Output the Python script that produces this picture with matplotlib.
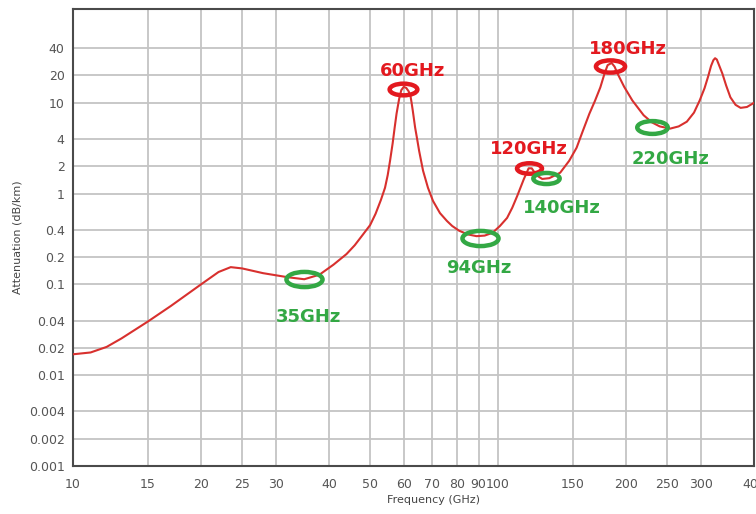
import matplotlib
matplotlib.use("Agg")
import matplotlib.pyplot as plt
from matplotlib.path import Path
from matplotlib.transforms import Affine2D
from matplotlib.ticker import FixedLocator, FixedFormatter, NullLocator

plt.rcParams['font.family'] = ['DejaVu Sans']

# ---- data ----
freq_ghz = [10, 11, 12, 13, 15, 17, 20, 22, 23.5, 25, 28, 32, 35, 38, 41, 44, 46, 48,
            50, 51.5, 53, 54.2, 55, 55.7, 56.5, 57.1, 57.7, 58.5, 59.2, 60, 60.8,
            61.6, 62.2, 62.6, 63.0, 63.8, 64.5, 65.2, 66.6, 68.4, 70.3, 73, 75.8,
            78, 81, 85, 89, 93, 97, 101, 105, 108, 111, 115, 118,
            120, 123, 127, 132, 140, 147, 153, 158, 164, 169, 174, 178, 181, 185, 188,
            191, 198, 207, 220, 230, 240, 254, 266, 278, 289, 298, 306, 312, 317, 321,
            324, 327, 331, 337, 344, 352, 362, 372, 385, 400]
atten_db_km = [0.017, 0.0178, 0.0205, 0.0254, 0.039, 0.058, 0.1, 0.137, 0.155, 0.15,
               0.133, 0.12, 0.114, 0.128, 0.165, 0.216, 0.27, 0.35,
               0.45, 0.6, 0.85, 1.16, 1.6, 2.3, 3.6, 5.3, 7.6, 11.0, 13.8, 15.0, 14.6,
               13.4, 12.0, 10.0, 8.2, 5.35, 4.0, 2.96, 1.79, 1.16, 0.83, 0.61, 0.5,
               0.44, 0.39, 0.355, 0.34, 0.345, 0.37, 0.44, 0.54, 0.7, 0.95, 1.45, 1.9,
               1.9, 1.6, 1.45, 1.48, 1.7, 2.3, 3.2, 4.8, 7.6, 10.5, 14.8,
               21, 26.0, 27.5, 25, 21, 15, 10.6, 7.3, 6.1, 5.5, 5.2, 5.5, 6.2, 7.8,
               10.6, 14.5, 19.5, 25.5, 29.5,
               31, 30, 26, 21, 15.5, 11.5, 9.5, 8.8, 9.0, 10.0]

mark_freq = [34.9, 59.7, 90.7, 118.3, 129.7, 183.4, 230]
mark_atten = [0.114, 14.1, 0.324, 1.93, 1.50, 25.3, 5.35]
mark_kind = ['green', 'red', 'green', 'red', 'green', 'red', 'green']

label_text = ['35GHz', '60GHz', '94GHz', '120GHz', '140GHz', '180GHz', '220GHz']
label_freq = [35.9, 62.8, 90.1, 118.3, 141.5, 202, 255]
label_atten = [0.0434, 22.3, 0.151, 3.13, 0.697, 39, 2.43]

x_ticks = [10, 15, 20, 25, 30, 40, 50, 60, 70, 80, 90, 100, 150, 200, 250, 300, 400]
x_tick_labels = ['10', '15', '20', '25', '30', '40', '50', '60', '70', '80', '90',
                 '100', '150', '200', '250', '300', '400']
y_ticks = [0.001, 0.002, 0.004, 0.01, 0.02, 0.04, 0.1, 0.2, 0.4, 1, 2, 4, 10, 20, 40]
y_tick_labels = ['0.001', '0.002', '0.004', '0.01', '0.02', '0.04', '0.1', '0.2',
                 '0.4', '1', '2', '4', '10', '20', '40']

# ---- style ----
RED_LINE = '#d8302e'
RED = '#e3191f'
GREEN = '#33a844'
colors = {'red': RED, 'green': GREEN}
mark_width_pt = [26, 20, 26, 18, 19, 21, 22]

fig = plt.figure(figsize=(7.56, 5.14), dpi=100)
ax = fig.add_axes([73 / 756, 1 - 466 / 514, (754 - 73) / 756, (466 - 9) / 514])

ax.set_xscale('log')
ax.set_yscale('log')
ax.set_xlim(10, 400)
ax.set_ylim(0.001, 108)

ax.plot(freq_ghz, atten_db_km, color=RED_LINE, lw=1.5, zorder=3,
        solid_joinstyle='round')

ell = Path.unit_circle().transformed(Affine2D().scale(1.0, 0.42))
for f, a, k, w in zip(mark_freq, mark_atten, mark_kind, mark_width_pt):
    ax.plot([f], [a], linestyle='none', marker=ell, markersize=w,
            markerfacecolor='none', markeredgecolor=colors[k],
            markeredgewidth=3.2, zorder=4)

for t, f, a, k in zip(label_text, label_freq, label_atten, mark_kind):
    ax.text(f, a, t, ha='center', va='center', color=colors[k],
            fontsize=13, fontweight='bold', zorder=5)

ax.xaxis.set_major_locator(FixedLocator(x_ticks))
ax.xaxis.set_major_formatter(FixedFormatter(x_tick_labels))
ax.xaxis.set_minor_locator(NullLocator())
ax.yaxis.set_major_locator(FixedLocator(y_ticks))
ax.yaxis.set_major_formatter(FixedFormatter(y_tick_labels))
ax.yaxis.set_minor_locator(NullLocator())

ax.grid(True, which='major', color='#c4c4c4', lw=1.3, zorder=0)
ax.set_axisbelow(True)
ax.tick_params(axis='both', length=0, labelsize=9, labelcolor='#555555')
ax.tick_params(axis='x', pad=9)
ax.tick_params(axis='y', pad=6)
for s in ax.spines.values():
    s.set_color('#4a4a4a')
    s.set_linewidth(1.5)

ax.set_xlabel('Frequency (GHz)', fontsize=8, color='#444444')
ax.xaxis.set_label_coords(0.53, -0.063)
ax.set_ylabel('Attenuation (dB/km)', fontsize=8, color='#444444')
ax.yaxis.set_label_coords(-0.074, 0.5)

fig.savefig('out.png', dpi=100)
